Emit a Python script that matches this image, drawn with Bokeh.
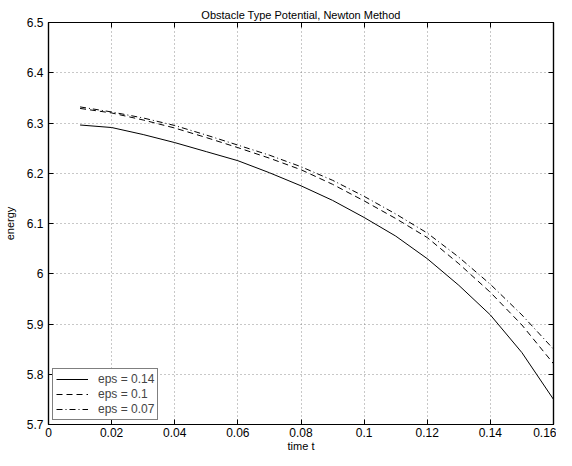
from bokeh.plotting import figure
from bokeh.models import LinearAxis, FixedTicker, Legend, LegendItem, Range1d
from bokeh.embed import file_html
from bokeh.resources import INLINE

t = [0.01, 0.02, 0.03, 0.04, 0.05, 0.06, 0.07, 0.08, 0.09, 0.10, 0.11, 0.12, 0.13, 0.14, 0.15, 0.16]
e_014 = [6.296, 6.291, 6.277, 6.261, 6.243, 6.225, 6.201, 6.175, 6.146, 6.112, 6.075, 6.030, 5.977, 5.918, 5.843, 5.750]
e_010 = [6.329, 6.320, 6.306, 6.290, 6.271, 6.251, 6.230, 6.207, 6.178, 6.145, 6.110, 6.072, 6.020, 5.963, 5.898, 5.821]
e_007 = [6.332, 6.322, 6.310, 6.295, 6.276, 6.256, 6.236, 6.213, 6.186, 6.154, 6.119, 6.081, 6.033, 5.979, 5.918, 5.850]
labels = ["eps = 0.14", "eps = 0.1", "eps = 0.07"]
x_ticks = [0, 0.02, 0.04, 0.06, 0.08, 0.1, 0.12, 0.14, 0.16]
x_tick_labels = ["0", "0.02", "0.04", "0.06", "0.08", "0.1", "0.12", "0.14", "0.16"]
y_ticks = [5.7, 5.8, 5.9, 6.0, 6.1, 6.2, 6.3, 6.4, 6.5]
y_tick_labels = ["5.7", "5.8", "5.9", "6", "6.1", "6.2", "6.3", "6.4", "6.5"]

FONT = "Liberation Sans"

p = figure(width=556, height=456, output_backend="svg", toolbar_location=None,
           x_range=Range1d(0, 0.16), y_range=Range1d(5.7, 6.5),
           min_border_left=42, min_border_right=3, min_border_top=22, min_border_bottom=32,
           title="Obstacle Type Potential, Newton Method")
p.title.align = "center"
p.title.text_font = FONT
p.title.text_font_size = "11px"
p.title.text_font_style = "normal"
p.title.text_color = "black"
p.title.offset = 0
p.title.standoff = 3
p.outline_line_color = "black"
p.outline_line_width = 1.2

for ax in [p.xaxis[0], p.yaxis[0]]:
    ax.major_tick_in = 5
    ax.major_tick_out = 0
    ax.minor_tick_in = 0
    ax.minor_tick_out = 0
    ax.axis_line_color = "black"
    ax.axis_line_width = 1.2
    ax.major_tick_line_color = "black"
    ax.major_label_text_font = FONT
    ax.major_label_text_font_size = "12px"
    ax.major_label_text_color = "black"
    ax.axis_label_text_font = FONT
    ax.axis_label_text_font_size = "11px"
    ax.axis_label_text_font_style = "normal"
    ax.axis_label_text_color = "black"

p.xaxis[0].ticker = FixedTicker(ticks=x_ticks)
p.xaxis[0].major_label_overrides = {v: s for v, s in zip(x_ticks, x_tick_labels)}
p.xaxis[0].axis_label = "time t"
p.xaxis[0].major_label_standoff = 3
p.xaxis[0].axis_label_standoff = 0
p.yaxis[0].ticker = FixedTicker(ticks=y_ticks)
p.yaxis[0].major_label_overrides = {v: s for v, s in zip(y_ticks, y_tick_labels)}
p.yaxis[0].axis_label = "energy"
p.yaxis[0].major_label_standoff = 5
p.yaxis[0].axis_label_standoff = 8

for loc in ["right", "above"]:
    ax = LinearAxis(ticker=FixedTicker(ticks=y_ticks if loc == "right" else x_ticks))
    ax.major_tick_in = 5
    ax.major_tick_out = 0
    ax.minor_tick_in = 0
    ax.minor_tick_out = 0
    ax.major_label_text_font_size = "0px"
    ax.major_label_text_alpha = 0
    ax.axis_line_color = "black"
    ax.axis_line_width = 1.2
    ax.major_label_standoff = 0
    p.add_layout(ax, loc)

p.xgrid.ticker = FixedTicker(ticks=x_ticks)
p.ygrid.ticker = FixedTicker(ticks=y_ticks)
for g in [p.xgrid[0], p.ygrid[0]]:
    g.grid_line_color = "#777777"
    g.grid_line_dash = "1 3"
    g.grid_line_width = 1
    g.grid_line_alpha = 0.8

r1 = p.line(t, e_014, line_color="black", line_width=1)
r2 = p.line(t, e_010, line_color="black", line_width=1, line_dash="6 4")
r3 = p.line(t, e_007, line_color="black", line_width=1, line_dash="6 3 1 3")

legend = Legend(items=[LegendItem(label=labels[0], renderers=[r1]),
                       LegendItem(label=labels[1], renderers=[r2]),
                       LegendItem(label=labels[2], renderers=[r3])],
                location="bottom_left")
legend.label_text_font = FONT
legend.label_text_font_size = "12px"
legend.label_height = 12
legend.glyph_height = 12
legend.glyph_width = 32
legend.spacing = 1
legend.padding = 3
legend.margin = 4
legend.border_line_color = "black"
legend.border_line_width = 1
legend.background_fill_color = "white"
legend.background_fill_alpha = 1
legend.label_standoff = 10
p.add_layout(legend)

open("out.html", "w").write(file_html(p, INLINE))
